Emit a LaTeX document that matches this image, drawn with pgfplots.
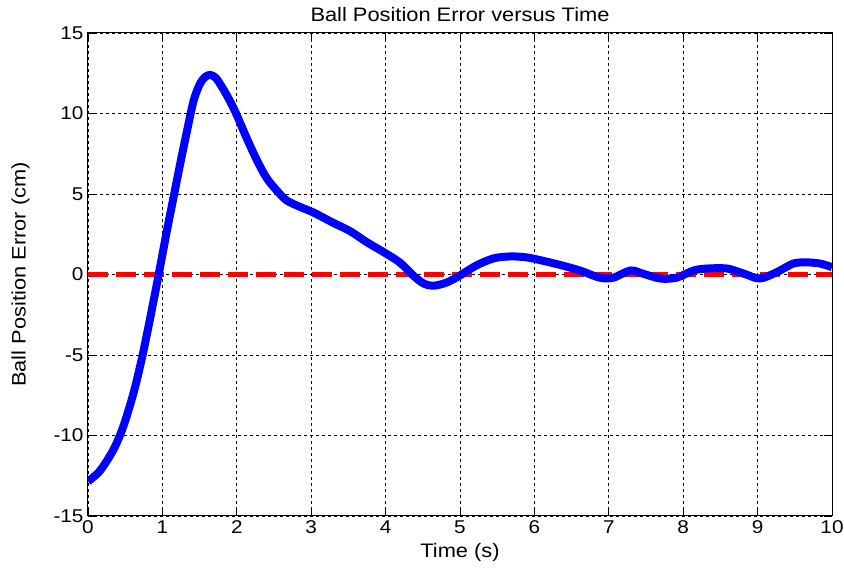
\documentclass[border=0pt]{standalone}
\usepackage{pgfplots}
\pgfplotsset{compat=1.18}
\usepackage{fontspec}
\setmainfont{Liberation Sans}[FakeStretch=1.12]

\begin{document}
\begin{tikzpicture}
\begin{axis}[
  scale only axis,
  width=744pt, height=483pt,
  xmin=0, xmax=10, ymin=-15, ymax=15,
  xtick={0,1,...,10},
  ytick={-15,-10,-5,0,5,10,15},
  tick align=inside,
  major tick length=8pt,
  tick style={black, line width=0.9pt},
  axis line style={black, line width=1pt},
  grid=major,
  major grid style={black, line width=0.8pt, dash pattern=on 3pt off 3pt},
  font=\fontsize{19.5}{22}\selectfont,
  /pgf/number format/assume math mode=true,
  ticklabel style={font=\fontsize{18.5}{21}\selectfont},
  xticklabel style={yshift=-1pt},
  yticklabel style={xshift=-1pt},
  title={Ball Position Error versus Time},
  title style={yshift=2pt},
  xlabel={Time (s)},
  xlabel style={yshift=-3pt},
  ylabel={Ball Position Error (cm)},
  ylabel style={yshift=17pt},
]
\coordinate (bl) at (rel axis cs:0,0);
\coordinate (tr) at (rel axis cs:1,1);

% reference (zero error)
\addplot[red, line width=5pt, dash pattern=on 20pt off 8pt] coordinates {(0,0) (10,0)};

% measured ball position error
\addplot[blue, line width=8pt, smooth, line join=round] coordinates {
(0,-12.85) (0.16,-12.2) (0.34,-10.9) (0.47,-9.5) (0.61,-7.4) (0.72,-5.3)
(0.81,-3.3) (0.90,-1.2) (0.95,0.0) (1.06,2.7) (1.15,4.8) (1.24,6.9)
(1.33,8.9) (1.42,10.8) (1.50,11.8) (1.57,12.25) (1.64,12.4) (1.72,12.2)
(1.82,11.5) (1.91,10.75)
(2.0,9.9) (2.13,8.5) (2.27,7.1) (2.40,6.0) (2.54,5.2) (2.67,4.6)
(2.85,4.2) (3.03,3.85) (3.30,3.2) (3.52,2.7) (3.75,2.0) (3.97,1.4)
(4.19,0.75) (4.37,-0.06) (4.51,-0.56) (4.64,-0.7) (4.82,-0.5) (5.0,-0.06)
(5.22,0.56) (5.45,1.0) (5.67,1.12) (5.9,1.06) (6.21,0.75) (6.34,0.6)
(6.61,0.25) (6.88,-0.2) (7.06,-0.2) (7.29,0.25) (7.46,0.05) (7.69,-0.25)
(7.91,-0.2) (8.14,0.25) (8.32,0.37) (8.59,0.37) (8.81,0.06) (9.03,-0.25)
(9.26,0.15) (9.48,0.68) (9.66,0.75) (9.84,0.68) (10.0,0.45)
};
\end{axis}
\pgfresetboundingbox
\path[use as bounding box] (bl) ++(-88pt,-55pt) rectangle ([shift={(12pt,33pt)}]tr);
\end{tikzpicture}
\end{document}
